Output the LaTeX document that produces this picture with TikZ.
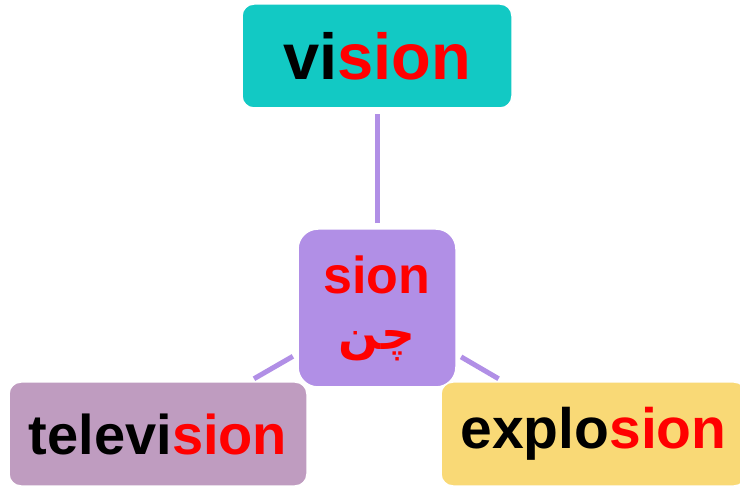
\documentclass[tikz,border=0pt]{standalone}
\usepackage{fontspec}
\setmainfont{Liberation Sans}
\newfontfamily\arabicfont[Script=Arabic, BoldFont={DejaVu Sans Bold}]{DejaVu Sans}
\TeXXeTstate=1
\usetikzlibrary{backgrounds}
\definecolor{visioncol}{RGB}{18,201,196}
\definecolor{sioncol}{RGB}{177,143,230}
\definecolor{televisioncol}{RGB}{191,156,192}
\definecolor{explosioncol}{RGB}{249,217,118}

\begin{document}
\begin{tikzpicture}[x=1pt, y=1pt,
  word/.style={rectangle, rounded corners=12pt, draw=white, line width=1.5pt,
    inner sep=0pt, text=red, minimum height=104pt},
  link/.style={draw=sioncol, line width=5pt, shorten >=5pt, shorten <=5pt}]
  \useasboundingbox (0,0) rectangle (740,488);
  % centre box first, the outer boxes overlap it
  \node[word, fill=sioncol, rounded corners=20pt, minimum width=158pt,
    minimum height=158pt, align=center,
    font=\bfseries\fontsize{52}{56}\selectfont] (sion) at (377,180)
    {sion\\{\arabicfont\bfseries\fontsize{47}{56}\selectfont\beginR چن\endR}};
  \node[word, fill=visioncol, minimum width=270pt,
    font=\bfseries\fontsize{65}{65}\selectfont] (vision) at (377,432)
    {\textcolor{black}{vi}sion};
  \node[word, fill=televisioncol, minimum width=298pt,
    font=\bfseries\fontsize{56}{56}\selectfont] (television) at (158,54)
    {\textcolor{black}{televi}sion};
  \node[word, fill=explosioncol, minimum width=305pt,
    font=\bfseries\fontsize{57}{57}\selectfont] (explosion) at (593.5,54)
    {\textcolor{black}{explo}sion};
  \begin{scope}[on background layer]
    \draw[link] (sion) -- (vision);
    \draw[link] (sion) -- (television);
    \draw[link] (sion) -- (explosion);
  \end{scope}
\end{tikzpicture}
\end{document}
